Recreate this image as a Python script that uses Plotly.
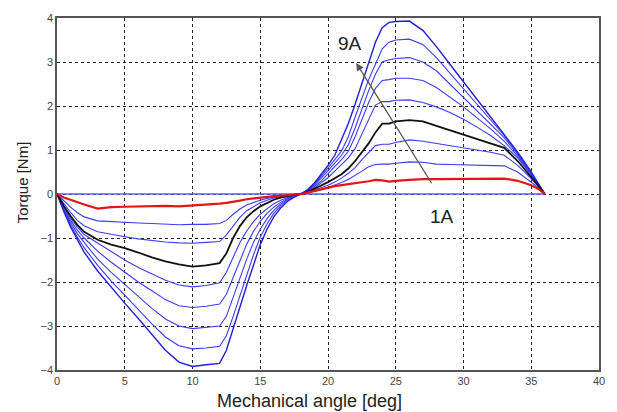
import plotly.graph_objects as go

# Mechanical angle [deg]
angle = [0, 0.5, 1, 1.5, 2, 3, 4, 5, 6, 7, 8, 9, 10, 11, 12, 12.5, 13, 13.5, 14, 14.5,
         15, 15.5, 16, 16.5, 17, 17.5, 18, 18.5, 19, 19.5, 20, 20.5, 21, 21.5, 22, 22.5,
         23, 23.5, 24, 24.5, 25, 26, 27, 28, 29, 30, 31, 32, 33, 34, 35, 35.5, 36]

torque_1A = [0, -0.08, -0.13, -0.19, -0.24, -0.33, -0.30, -0.29, -0.28, -0.28, -0.27, -0.28, -0.26, -0.25, -0.22, -0.20,
             -0.18, -0.15, -0.12, -0.10, -0.08, -0.06, -0.05, -0.04, -0.03, -0.01, 0,
             0.03, 0.07, 0.10, 0.15, 0.18, 0.20, 0.22, 0.24, 0.27, 0.29, 0.32, 0.31, 0.28, 0.30,
             0.32, 0.34, 0.34, 0.34, 0.34, 0.35, 0.35, 0.35, 0.30, 0.20, 0.12, 0]
torque_2A = [0, -0.16, -0.30, -0.42, -0.52, -0.61, -0.63, -0.64, -0.66, -0.67, -0.69, -0.70, -0.69, -0.69, -0.67, -0.60,
             -0.46, -0.34, -0.25, -0.19, -0.14, -0.10, -0.07, -0.05, -0.03, -0.015, 0,
             0.03, 0.07, 0.10, 0.15, 0.20, 0.26, 0.33, 0.42, 0.52, 0.62, 0.67, 0.68, 0.68, 0.70,
             0.73, 0.72, 0.68, 0.67, 0.66, 0.65, 0.65, 0.64, 0.50, 0.28, 0.15, 0]
torque_3A = [0, -0.22, -0.42, -0.60, -0.72, -0.86, -0.92, -0.97, -1.02, -1.06, -1.09, -1.11, -1.12, -1.10, -1.08, -0.93,
             -0.72, -0.53, -0.38, -0.28, -0.20, -0.14, -0.09, -0.06, -0.035, -0.015, 0,
             0.04, 0.09, 0.14, 0.20, 0.27, 0.36, 0.47, 0.60, 0.78, 0.95, 1.10, 1.13, 1.13, 1.17,
             1.23, 1.20, 1.15, 1.10, 1.05, 1.00, 0.95, 0.88, 0.65, 0.35, 0.18, 0]
torque_4A = [0, -0.27, -0.50, -0.70, -0.86, -1.04, -1.15, -1.23, -1.33, -1.44, -1.53, -1.60, -1.65, -1.62, -1.57, -1.35,
             -1.00, -0.73, -0.53, -0.39, -0.28, -0.20, -0.13, -0.08, -0.045, -0.02, 0,
             0.05, 0.12, 0.19, 0.27, 0.36, 0.45, 0.58, 0.75, 0.95, 1.15, 1.40, 1.60, 1.60, 1.65,
             1.68, 1.65, 1.55, 1.45, 1.35, 1.25, 1.15, 1.05, 0.75, 0.40, 0.20, 0]
torque_5A = [0, -0.30, -0.55, -0.75, -0.92, -1.12, -1.32, -1.50, -1.67, -1.82, -1.96, -2.07, -2.11, -2.08, -2.02, -1.78,
             -1.42, -1.10, -0.84, -0.63, -0.46, -0.33, -0.22, -0.14, -0.08, -0.03, 0,
             0.06, 0.14, 0.25, 0.37, 0.52, 0.67, 0.82, 1.03, 1.35, 1.70, 2.02, 2.10, 2.10, 2.13,
             2.14, 2.08, 1.98, 1.85, 1.70, 1.52, 1.33, 1.10, 0.82, 0.43, 0.22, 0]
torque_6A = [0, -0.32, -0.60, -0.82, -1.00, -1.30, -1.55, -1.78, -2.00, -2.20, -2.40, -2.54, -2.58, -2.55, -2.50, -2.28,
             -1.90, -1.50, -1.14, -0.85, -0.62, -0.44, -0.30, -0.19, -0.10, -0.04, 0,
             0.07, 0.17, 0.30, 0.45, 0.62, 0.78, 0.97, 1.30, 1.70, 2.08, 2.40, 2.58, 2.60, 2.63,
             2.63, 2.58, 2.42, 2.20, 1.98, 1.73, 1.48, 1.20, 0.86, 0.45, 0.23, 0]
torque_7A = [0, -0.35, -0.65, -0.90, -1.10, -1.48, -1.78, -2.05, -2.33, -2.60, -2.84, -3.00, -3.06, -3.03, -3.00, -2.78,
             -2.35, -1.90, -1.48, -1.10, -0.80, -0.56, -0.37, -0.23, -0.12, -0.05, 0,
             0.08, 0.20, 0.36, 0.52, 0.70, 0.88, 1.12, 1.50, 1.92, 2.35, 2.72, 3.00, 3.05, 3.08,
             3.10, 3.00, 2.80, 2.50, 2.20, 1.90, 1.60, 1.28, 0.90, 0.47, 0.24, 0]
torque_8A = [0, -0.37, -0.70, -0.98, -1.22, -1.62, -1.98, -2.30, -2.63, -2.95, -3.25, -3.45, -3.52, -3.50, -3.46, -3.22,
             -2.78, -2.30, -1.82, -1.38, -0.98, -0.68, -0.44, -0.27, -0.14, -0.06, 0,
             0.09, 0.22, 0.40, 0.58, 0.78, 0.98, 1.30, 1.75, 2.20, 2.60, 2.95, 3.30, 3.45, 3.50,
             3.52, 3.40, 3.10, 2.75, 2.40, 2.05, 1.70, 1.33, 0.93, 0.48, 0.25, 0]
torque_9A = [0, -0.40, -0.75, -1.05, -1.32, -1.75, -2.12, -2.48, -2.83, -3.20, -3.55, -3.82, -3.92, -3.88, -3.85, -3.55,
             -3.05, -2.55, -2.08, -1.62, -1.15, -0.80, -0.52, -0.32, -0.17, -0.07, 0,
             0.10, 0.25, 0.45, 0.65, 0.88, 1.22, 1.60, 2.04, 2.50, 3.00, 3.45, 3.78, 3.90, 3.92,
             3.93, 3.72, 3.35, 2.95, 2.55, 2.15, 1.75, 1.35, 0.95, 0.50, 0.26, 0]

zero_x = [0, 36]
zero_y = [0, 0]

FONT = "Liberation Sans, Arial, sans-serif"
blue = "#3c3cf0"
series = [
    ("2A", torque_2A, blue, 1.1), ("3A", torque_3A, blue, 1.1),
    ("5A", torque_5A, blue, 1.1), ("6A", torque_6A, blue, 1.1), ("7A", torque_7A, blue, 1.1),
    ("8A", torque_8A, blue, 1.1), ("9A", torque_9A, "#2020d8", 1.4),
    ("4A", torque_4A, "#111111", 1.8), ("1A", torque_1A, "#e51515", 2.2),
]

fig = go.Figure()
fig.add_trace(go.Scatter(x=zero_x, y=zero_y, mode="lines", line=dict(color="#5c5cf5", width=1.3),
                         showlegend=False, hoverinfo="skip"))
for name, ys, col, w in series:
    fig.add_trace(go.Scatter(x=angle, y=ys, mode="lines", name=name,
                             line=dict(color=col, width=w), showlegend=False))

fig.add_annotation(x=22.08, y=2.98, ax=27.72, ay=0.21, xref="x", yref="y", axref="x", ayref="y",
                   showarrow=True, arrowhead=2, arrowsize=1.2, arrowwidth=1.3, arrowcolor="#555555", text="")
fig.add_annotation(x=21.6, y=3.42, text="9A", showarrow=False,
                   font=dict(family=FONT, size=19, color="#222"))
fig.add_annotation(x=28.4, y=-0.5, text="1A", showarrow=False,
                   font=dict(family=FONT, size=19, color="#222"))
# axis titles
fig.add_annotation(x=0.466, y=-0.087, xref="paper", yref="paper", text="Mechanical angle [deg]",
                   showarrow=False, xanchor="center", yanchor="middle",
                   font=dict(family=FONT, size=18, color="#222"))
fig.add_annotation(x=-0.064, y=0.534, xref="paper", yref="paper", text="Torque [Nm]",
                   showarrow=False, xanchor="center", yanchor="middle", textangle=-90,
                   font=dict(family=FONT, size=15, color="#222"))

axis_common = dict(showgrid=True, gridcolor="#222222", gridwidth=1, griddash="3px,3px",
                   showline=True, linecolor="#555555", linewidth=1.5, mirror=True,
                   zeroline=False, ticks="", tickfont=dict(family=FONT, size=11, color="#444"))
fig.update_xaxes(range=[0, 40], dtick=5, tick0=0, **axis_common)
fig.update_yaxes(range=[-4, 4], dtick=1, tick0=0, **axis_common)

fig.update_layout(width=617, height=412, margin=dict(l=57, r=17, t=14, b=42),
                  plot_bgcolor="white", paper_bgcolor="white", showlegend=False)

fig.write_html("out.html")
